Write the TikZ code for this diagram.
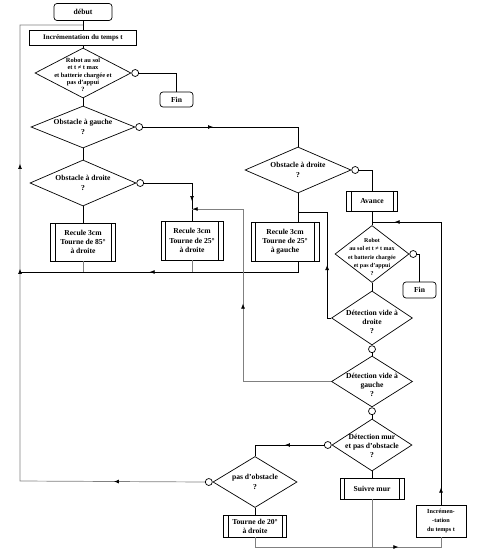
\documentclass[tikz,border=0pt]{standalone}
\usepackage{fontspec}
\setmainfont{Liberation Serif}
\usetikzlibrary{shapes.geometric,arrows.meta,decorations.markings}
\newlength{\du}
\setlength{\du}{1pt}
\tikzset{
  conn/.style={draw=black, line width=0.7\du},
  gconn/.style={draw=black!50, line width=0.7\du},
  arr/.style={postaction={decorate,decoration={markings,
      mark=at position #1 with {\arrow[black]{Latex[length=5pt,width=4pt]}}}}},
  box/.style={draw, rectangle, line width=0.7\du, inner sep=0pt},
  term/.style={box, rounded corners=3\du},
  proc/.style={box, path picture={
      \draw[line width=0.7\du] ([xshift=4.5\du]path picture bounding box.north west) -- ([xshift=4.5\du]path picture bounding box.south west);
      \draw[line width=0.7\du] ([xshift=-4.5\du]path picture bounding box.north east) -- ([xshift=-4.5\du]path picture bounding box.south east);}},
  dia/.style={draw, diamond, line width=0.7\du, inner sep=0pt},
  ring/.style={draw, circle, fill=white, line width=0.7\du, inner sep=0pt, minimum size=7\du},
  bigtxt/.style={font=\bfseries\fontsize{7.6}{9.2}\selectfont, align=center, inner sep=0pt},
  smalltxt/.style={font=\bfseries\fontsize{6.4}{7.3}\selectfont, align=center, inner sep=0pt},
}
\begin{document}
\begin{tikzpicture}
\pgftransformxscale{1.000000}
\pgftransformyscale{-1.000000}
\useasboundingbox (0\du,0\du) rectangle (477\du,553\du);
% junction points
\coordinate (jtop) at (83\du,25\du);
\coordinate (lt) at (20\du,25\du);
\coordinate (lb) at (20\du,481\du);
\coordinate (lm) at (20\du,272\du);
\coordinate (j25d) at (192\du,209\du);
\coordinate (k243) at (243\du,209\du);
\coordinate (j25g) at (298\du,212\du);
\coordinate (jav) at (372\du,222\du);
\coordinate (jbot) at (441\du,547\du);
% left column
\node[term, bigtxt, minimum width=58\du, minimum height=17\du] (debut) at (83\du,12\du) {début};
\node[box, bigtxt, font=\bfseries\fontsize{7}{8}\selectfont, minimum width=107\du, minimum height=15\du] (inc) at (83\du,37.5\du) {Incrémentation du temps t};
\node[dia, minimum width=96\du, minimum height=50\du] (d1) at (83\du,73\du) {};
\node[smalltxt] (d1t) at (83\du,75\du) {Robot au sol\\et t ≠ t max\\et batterie chargée et\\pas d'appui\\?};
\node[ring, anchor=west] (c1) at (d1.east) {};
\node[term, bigtxt, minimum width=33\du, minimum height=15\du] (fin1) at (176.5\du,99.5\du) {Fin};
\node[dia, minimum width=104\du, minimum height=42\du] (d2) at (83\du,127\du) {};
\node[bigtxt] (d2t) at (d2) {Obstacle à gauche\\?};
\node[ring, anchor=west] (c2) at (d2.east) {};
\node[dia, minimum width=106\du, minimum height=46\du] (d2b) at (83\du,183\du) {};
\node[bigtxt] (d2bt) at (d2b) {Obstacle à droite\\?};
\node[ring, anchor=west] (c2b) at (d2b.east) {};
\node[proc, bigtxt, minimum width=65\du, minimum height=38\du] (r85) at (83\du,242\du) {Recule 3cm\\Tourne de 85°\\à droite};
\node[proc, bigtxt, minimum width=62\du, minimum height=39\du] (r25d) at (192\du,240.5\du) {Recule 3cm\\Tourne de 25°\\à droite};
% right column
\node[dia, minimum width=106\du, minimum height=46\du] (d3) at (298\du,170\du) {};
\node[bigtxt] (d3t) at (d3) {Obstacle à droite\\?};
\node[ring, anchor=west] (c3) at (d3.east) {};
\node[proc, bigtxt, minimum width=68\du, minimum height=39\du] (r25g) at (285\du,241.5\du) {Recule 3cm\\Tourne de 25°\\à gauche};
\node[proc, bigtxt, minimum width=51\du, minimum height=20\du] (avance) at (372\du,201\du) {Avance};
\node[dia, minimum width=74\du, minimum height=57\du] (d4) at (372\du,254\du) {};
\node[smalltxt, font=\bfseries\fontsize{6}{8.4}\selectfont] (d4t) at (372\du,257\du) {Robot\\au sol et t ≠ t max\\et batterie chargée\\et pas d'appui\\?};
\node[ring, anchor=west] (c4) at (d4.east) {};
\node[term, bigtxt, minimum width=33\du, minimum height=16\du] (fin2) at (419.5\du,290\du) {Fin};
\node[dia, minimum width=81\du, minimum height=54\du] (d5) at (372\du,318\du) {};
\node[bigtxt] (d5t) at (372\du,322\du) {Détection vide à\\droite\\?};
\node[ring, anchor=north] (c5) at (d5.south) {};
\node[dia, minimum width=81\du, minimum height=51\du] (d6) at (372\du,381.5\du) {};
\node[bigtxt] (d6t) at (372\du,385\du) {Détection vide à\\gauche\\?};
\node[ring, anchor=north] (c6) at (d6.south) {};
\node[dia, minimum width=80\du, minimum height=52\du] (d7) at (372\du,445\du) {};
\node[bigtxt] (d7t) at (372\du,446\du) {Détection mur\\et pas d'obstacle\\?};
\node[ring, anchor=east] (c7) at (d7.west) {};
\node[proc, bigtxt, minimum width=64\du, minimum height=21\du] (suivre) at (372\du,488.5\du) {Suivre mur};
\node[dia, minimum width=84\du, minimum height=51\du] (d8) at (255\du,482\du) {};
\node[bigtxt] (d8t) at (d8) {pas d'obstacle\\?};
\node[ring, anchor=east] (c8) at (d8.west) {};
\node[proc, bigtxt, minimum width=63\du, minimum height=22\du] (t20) at (255\du,526\du) {Tourne de 20°\\à droite};
\node[box, smalltxt, font=\bfseries\fontsize{6.2}{9}\selectfont, minimum width=50\du, minimum height=32\du] (inc2) at (441\du,521\du) {Incrémen-\\-tation\\du temps t};
% connectors
\draw[conn] (debut) -- (inc);
\draw[conn] (inc) -- (d1);
\draw[conn] (c1.east) -| (fin1.north);
\draw[conn] (d1) -- (d2);
\draw[conn, arr=70pt] (c2.east) -| (d3.north);
\draw[conn] (d2) -- (d2b);
\draw[conn, arr=66pt] (c2b.east) -| (r25d.north);
\draw[conn] (d2b) -- (r85);
\draw[gconn] (r85) -- (r85.south |- lm);
\draw[gconn] (r25d) -- (r25d.south |- lm);
\draw[conn] (d3.south) -- (d3.south |- r25g.north);
\draw[conn, arr=159pt] (d3.south |- r25g.south) |- (lm);
\draw[conn] (c3.east) -| (avance.north);
\draw[conn] (avance) -- (d4);
\draw[conn] (c4.east) -| (fin2.north);
\draw[conn] (d4) -- (d5);
\draw[conn, arr=57pt, arr=140pt] (d5.west) -- ++(-4\du,0) |- (j25g);
\draw[conn] (c5) -- (d6);
\draw[gconn, arr=166pt, arr=311pt] (d6.west) -| (k243) -- (j25d);
\draw[conn] (c6) -- (d7);
\draw[conn, arr=39pt] (c7.west) -| (d8.north);
\draw[conn] (d7) -- (suivre);
\draw[gconn] (suivre) -- (suivre.south |- jbot);
\draw[conn] (d8) -- (t20);
\draw[gconn, arr=153pt] (t20.south) |- (jbot) -- (inc2);
\draw[conn, arr=17pt, arr=329pt] (inc2.north) |- (jav);
\draw[gconn, arr=91pt, arr=397pt, arr=502pt] (c8.west) -- (lb) -- (lt) -- (jtop);
\end{tikzpicture}
\end{document}
